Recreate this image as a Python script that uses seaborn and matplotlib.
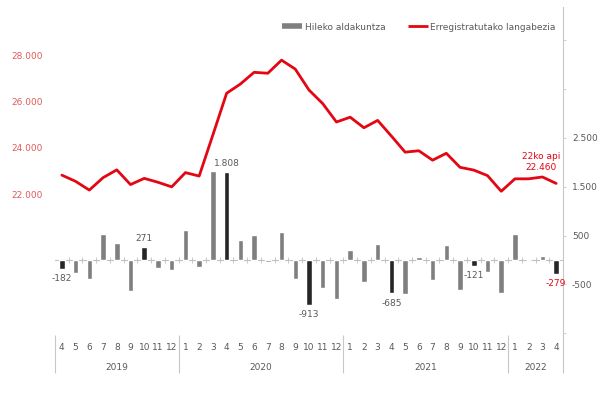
import numpy as np
import pandas as pd
import matplotlib
matplotlib.use("Agg")
import matplotlib.pyplot as plt
from matplotlib.lines import Line2D
import seaborn as sns

# DATOS
years = [2019] * 9 + [2020] * 12 + [2021] * 12 + [2022] * 4
months = list(range(4, 13)) + list(range(1, 13)) + list(range(1, 13)) + list(range(1, 5))

# Hileko aldakuntza (barrak)
change = [-182, -270, -380, 535, 340, -636, 271, -170, -200,
          617, -150, 1820, 1808, 400, 510, -40, 575, -393, -913, -583, -800,
          203, -453, 320, -685, -697, 55, -406, 298, -610, -121, -237, -677,
          535, 0, 81, -279]

# Erregistratutako langabezia (lerroa)
level = [22820, 22550, 22170, 22710, 23050, 22410, 22680, 22510, 22310,
         22930, 22780, 24570, 26380, 26780, 27290, 27250, 27820, 27430, 26520, 25930, 25130,
         25340, 24880, 25200, 24520, 23820, 23880, 23470, 23770, 23160, 23040, 22800, 22120,
         22660, 22660, 22740, 22460]

year_labels = ["2019", "2020", "2021", "2022"]
legend_labels = ["Hileko aldakuntza", "Erregistratutako langabezia"]
last_label = "22ko api"

cats = [f"{y}-{m:02d}" for y, m in zip(years, months)]
df = pd.DataFrame({"cat": cats, "year": years, "month": months,
                   "change": change, "level": level, "pos": range(len(cats))})

GRAY = "#7f7f7f"
DARK = "#262626"
RED = "#e30613"
TXT = "#595959"
AXC = "#c8c8c8"

def fmt(v):
    return f"{v:,.0f}".replace(",", ".")

sns.set_style("white")
plt.rcParams["font.family"] = ["DejaVu Sans"]

fig = plt.figure(figsize=(6.03, 4.07), dpi=100)
ax = fig.add_axes([55 / 603, 1 - 335 / 407, 508 / 603, 328 / 407])
ax2 = ax.twinx()

# barrak
palette = {c: (DARK if m in (4, 10) else GRAY) for c, m in zip(cats, months)}
sns.barplot(data=df, x="cat", y="change", hue="cat", palette=palette, order=cats,
            width=0.4, legend=False, ax=ax, saturation=1)

ax.set_xlim(-0.5, len(cats) - 0.5)
ax.set_ylim(-1537, 5184)
ax.axhline(0, color="#bfbfbf", lw=0.8, zorder=0)
bounds = np.arange(len(cats) + 1) - 0.5
ax.vlines(bounds[1:-1], -60, 60, color="#bfbfbf", lw=0.6, zorder=0)

# balioen etiketak (apirila eta urria)
for i, row in df.iterrows():
    if row["month"] not in (4, 10):
        continue
    v = row["change"]
    col = RED if i == len(df) - 1 else TXT
    off = 3 if v > 0 else -4
    ax.annotate(fmt(v), (i, v), xytext=(0, off), textcoords="offset points",
                ha="center", va="bottom" if v > 0 else "top", fontsize=6.5, color=col)

# eskuineko ardatza
rticks = [-1500, -500, 500, 1500, 2500, 3500, 4500]
ax.set_yticks(rticks)
ax.set_yticklabels([fmt(t) if -500 <= t <= 2500 else "" for t in rticks])
ax.yaxis.tick_right()
ax.tick_params(axis="y", which="major", direction="out", length=2.5, width=0.6,
               color=AXC, labelsize=6.5, labelcolor=TXT, pad=4)
ax.set_ylabel("")
ax.set_xlabel("")
for s in ["left", "top", "bottom"]:
    ax.spines[s].set_visible(False)
ax.spines["right"].set_color(AXC)
ax.spines["right"].set_linewidth(0.8)

# kategorien ardatza (hilabeteak + urteak)
ax.set_xticks(range(len(cats)))
ax.set_xticklabels([str(m) for m in months])
ax.set_xticks(bounds, minor=True)
ax.tick_params(axis="x", which="major", length=0, labelsize=6.5, labelcolor=TXT, pad=6)
ax.tick_params(axis="x", which="minor", length=13, width=0.6, color=AXC, direction="out")

trans = ax.get_xaxis_transform()
year_edges = [-0.5]
for y in sorted(set(years)):
    year_edges.append(df.loc[df["year"] == y, "pos"].max() + 0.5)
ax.vlines(year_edges, -0.116, 0, transform=trans, clip_on=False, color=AXC, lw=0.8)
for k, y in enumerate(year_labels):
    ax.text((year_edges[k] + year_edges[k + 1]) / 2, -0.10, y, transform=trans,
            ha="center", va="center", fontsize=6.5, color=TXT)

# lerroa
sns.lineplot(data=df, x="pos", y="level", color=RED, lw=2, ax=ax2)
ax2.set_ylim(15870, 30130)
lticks = [22000, 24000, 26000, 28000]
ax2.set_yticks(lticks)
ax2.set_yticklabels([fmt(t) for t in lticks])
ax2.yaxis.tick_left()
ax2.tick_params(axis="y", length=0, labelsize=6.5, labelcolor="#e05a5a", pad=9)
ax2.set_ylabel("")
ax2.set_xlabel("")
for s in ax2.spines.values():
    s.set_visible(False)
ax2.set_xlim(-0.5, len(cats) - 0.5)

ax2.annotate(f"{last_label}\n{fmt(level[-1])}", (len(level) - 1, level[-1]),
             xytext=(-11, 8), textcoords="offset points", ha="center", va="bottom",
             fontsize=6.5, color=RED, linespacing=1.3)

# legenda
handles = [Line2D([0], [0], color=GRAY, lw=4, solid_capstyle="butt"),
           Line2D([0], [0], color=RED, lw=2, solid_capstyle="butt")]
fig.legend(handles, legend_labels, loc="center", bbox_to_anchor=(419 / 603, 1 - 27 / 407),
           ncol=2, frameon=False, fontsize=6.5, labelcolor=TXT, handlelength=2.2,
           handletextpad=0.3, columnspacing=2.5)

fig.savefig("out.png", dpi=100)
